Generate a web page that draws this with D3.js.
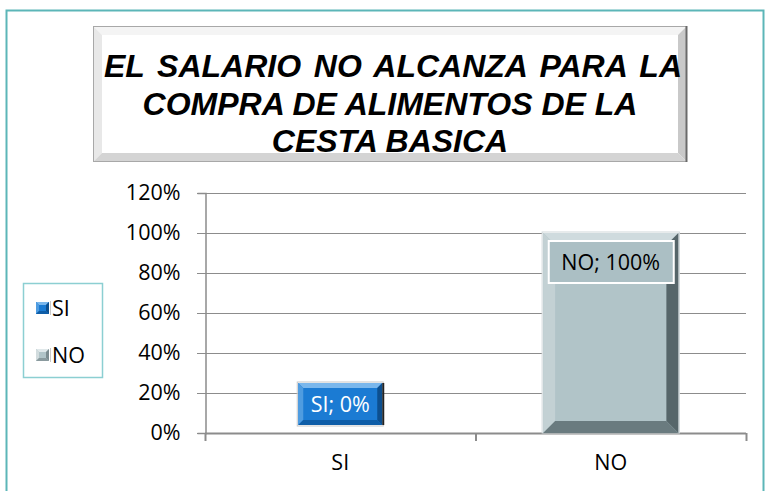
<!DOCTYPE html>
<html><head><meta charset="utf-8">
<script src="https://cdn.jsdelivr.net/npm/d3@7"></script>
<style>body{margin:0;background:#fff}svg{display:block}</style>
</head><body>
<script>
const categories = ["SI", "NO"];
const values = [0, 1.0];
const yTicks = [0, 0.2, 0.4, 0.6, 0.8, 1.0, 1.2];
const titleLines = ["EL SALARIO NO ALCANZA PARA LA", "COMPRA DE ALIMENTOS DE LA", "CESTA BASICA"];
const colors = {SI: "#1b7bd3", NO: "#b1c4c8"};

const W = 767, H = 491;
const svg = d3.select("body").append("svg").attr("width", W).attr("height", H);

// outer border
svg.append("rect").attr("x", 6.5).attr("y", 10.5).attr("width", 757).attr("height", 500)
  .attr("fill", "none").attr("stroke", "#5cb6b8").attr("stroke-width", 2);

function bevel(g, x, y, w, h, b, cTop, cLeft, cRight, cBottom, cFace) {
  g.append("rect").attr("x", x).attr("y", y).attr("width", w).attr("height", h).attr("fill", cFace);
  g.append("polygon").attr("points", [[x,y],[x+w,y],[x+w-b,y+b],[x+b,y+b]].join(" ")).attr("fill", cTop);
  g.append("polygon").attr("points", [[x,y],[x+b,y+b],[x+b,y+h-b],[x,y+h]].join(" ")).attr("fill", cLeft);
  g.append("polygon").attr("points", [[x+w,y],[x+w,y+h],[x+w-b,y+h-b],[x+w-b,y+b]].join(" ")).attr("fill", cRight);
  g.append("polygon").attr("points", [[x,y+h],[x+w,y+h],[x+w-b,y+h-b],[x+b,y+h-b]].join(" ")).attr("fill", cBottom);
}

// title box with bevel
const tb = {x: 93, y: 26, w: 594, h: 136, b: 9};
const tg = svg.append("g");
bevel(tg, tb.x, tb.y, tb.w, tb.h, tb.b, "#f4f4f4", "#e8e8e8", "#c9c9c9", "#d4d4d4", "#ffffff");
tg.append("rect").attr("x", tb.x + 0.5).attr("y", tb.y + 0.5).attr("width", tb.w - 1).attr("height", tb.h - 1)
  .attr("fill", "none").attr("stroke", "#a8a8a8");
tg.append("line").attr("x1", tb.x + tb.w - 0.5).attr("x2", tb.x + tb.w - 0.5).attr("y1", tb.y).attr("y2", tb.y + tb.h)
  .attr("stroke", "#6a6a6a").attr("stroke-width", 2);
const titleFont = "'Liberation Sans', Arial, sans-serif";
const baselines = [77, 115, 152];
titleLines.forEach((t, i) => {
  const txt = svg.append("text").attr("y", baselines[i])
    .attr("font-family", titleFont).attr("font-size", 32).attr("font-weight", "bold")
    .attr("font-style", "italic").attr("fill", "#000").text(t);
  if (i === 0) {
    txt.attr("x", 104).attr("text-anchor", "start");
    const len = txt.node().getComputedTextLength();
    const gaps = t.split(" ").length - 1;
    txt.attr("word-spacing", Math.max(0, (682 - 104 - len) / gaps));
  } else {
    txt.attr("x", tb.x + tb.w / 2).attr("text-anchor", "middle");
  }
});

// plot area
const plot = {l: 205, r: 746, t: 193, b: 433};
const x = d3.scaleBand().domain(categories).range([plot.l, plot.r]).paddingInner(0.5).paddingOuter(0.25);
const y = d3.scaleLinear().domain([0, 1.2]).range([plot.b, plot.t]);
const bodyFont = "'Open Sans', 'Liberation Sans', sans-serif";
const fs = 21.5;

// grid
svg.append("g").selectAll("line").data(yTicks).join("line")
  .attr("x1", plot.l - 8).attr("x2", plot.r).attr("y1", d => Math.round(y(d)) + 0.5).attr("y2", d => Math.round(y(d)) + 0.5)
  .attr("stroke", "#8c8c8c").attr("stroke-width", 1.2);

// y-axis
const yAxis = d3.axisLeft(y).tickValues(yTicks).tickFormat(d3.format(".0%")).tickSize(8).tickPadding(17);
const ya = svg.append("g").attr("transform", `translate(${plot.l + 0.5},0)`).call(yAxis);
ya.select(".domain").attr("stroke", "#8c8c8c").attr("stroke-width", 1.5);
ya.selectAll(".tick line").attr("stroke", "#8c8c8c");
ya.selectAll("text").attr("font-family", bodyFont).attr("font-size", fs).attr("fill", "#000");

// x-axis
const xa = svg.append("g").attr("transform", `translate(0,${plot.b + 0.5})`)
  .call(d3.axisBottom(x).tickSize(0).tickPadding(21));
xa.select(".domain").remove();
xa.selectAll("text").attr("font-family", bodyFont).attr("font-size", fs).attr("fill", "#000");
const xBounds = [plot.l, plot.l + (plot.r - plot.l) / 2, plot.r];
svg.append("line").attr("x1", plot.l).attr("x2", plot.r).attr("y1", plot.b + 0.5).attr("y2", plot.b + 0.5)
  .attr("stroke", "#8c8c8c").attr("stroke-width", 2);
svg.append("g").selectAll("line").data(xBounds).join("line")
  .attr("x1", d => d + 0.5).attr("x2", d => d + 0.5).attr("y1", plot.b).attr("y2", plot.b + 8)
  .attr("stroke", "#8c8c8c").attr("stroke-width", 2);

// bars
const bars = svg.append("g");
categories.forEach((c, i) => {
  const v = values[i];
  if (v <= 0) return;
  const bx = x(c), bw = x.bandwidth(), by = y(v), bh = y(0) - y(v);
  const g = bars.append("g");
  g.append("rect").attr("x", bx - 1).attr("y", by - 1).attr("width", bw + 2).attr("height", bh + 1).attr("fill", "#ffffff").attr("stroke", "#d0d8da");
  bevel(g, bx, by, bw, bh, 12, "#cfdbde", "#c3d1d4", "#56666a", "#6a7b7f", colors[c]);
});

// data labels
categories.forEach((c, i) => {
  const v = values[i];
  const cx = x(c) + x.bandwidth() / 2;
  const label = `${c}; ${d3.format(".0%")(v)}`;
  const g = svg.append("g");
  if (v <= 0) {
    const lx = cx - 42, ly = y(0) - 50, lw = 84, lh = 42;
    bevel(g, lx, ly, lw, lh, 5, "#7ab7ec", "#4f9ce0", "#0d4f8e", "#0f5ea8", colors[c]);
    g.append("rect").attr("x", lx - 1).attr("y", ly - 1).attr("width", lw + 2).attr("height", lh + 2)
      .attr("fill", "none").attr("stroke", "#c8c8c8").attr("stroke-width", 1);
    g.append("line").attr("x1", lx + lw + 1).attr("x2", lx + lw + 1).attr("y1", ly).attr("y2", ly + lh)
      .attr("stroke", "#222").attr("stroke-width", 2);
    g.append("text").attr("x", cx).attr("y", ly + lh / 2 + 7.5).attr("text-anchor", "middle")
      .attr("font-family", bodyFont).attr("font-size", fs).attr("fill", "#fff").text(label);
  } else {
    const lx = cx - 62, ly = y(v) + 8, lw = 125, lh = 42;
    g.append("rect").attr("x", lx).attr("y", ly).attr("width", lw).attr("height", lh)
      .attr("fill", "#abbfc4").attr("stroke", "#ffffff").attr("stroke-width", 2);
    g.append("text").attr("x", cx).attr("y", ly + lh / 2 + 7.5).attr("text-anchor", "middle")
      .attr("font-family", bodyFont).attr("font-size", fs).attr("fill", "#000").text(label);
  }
});

// legend
const lg = svg.append("g");
lg.append("rect").attr("x", 23.5).attr("y", 283.5).attr("width", 79).attr("height", 94)
  .attr("fill", "#fff").attr("stroke", "#8ccfd2").attr("stroke-width", 1.5);
const legendY = [308, 355];
categories.forEach((c, i) => {
  const my = legendY[i] - 6;
  const mg = lg.append("g");
  bevel(mg, 36, my, 13, 12, 3, c === "SI" ? "#7ab7ec" : "#e0e8ea", c === "SI" ? "#4f9ce0" : "#d2dcde",
    c === "SI" ? "#0d4f8e" : "#7c8c90", c === "SI" ? "#0f5ea8" : "#8a9a9e", colors[c]);
  mg.append("line").attr("x1", 50.5).attr("x2", 50.5).attr("y1", my - 1).attr("y2", my + 13).attr("stroke", "#c8c8c8");
  lg.append("text").attr("x", 52).attr("y", legendY[i] + 7.5).attr("font-family", bodyFont)
    .attr("font-size", fs).attr("fill", "#000").text(c);
});
</script>
</body></html>
